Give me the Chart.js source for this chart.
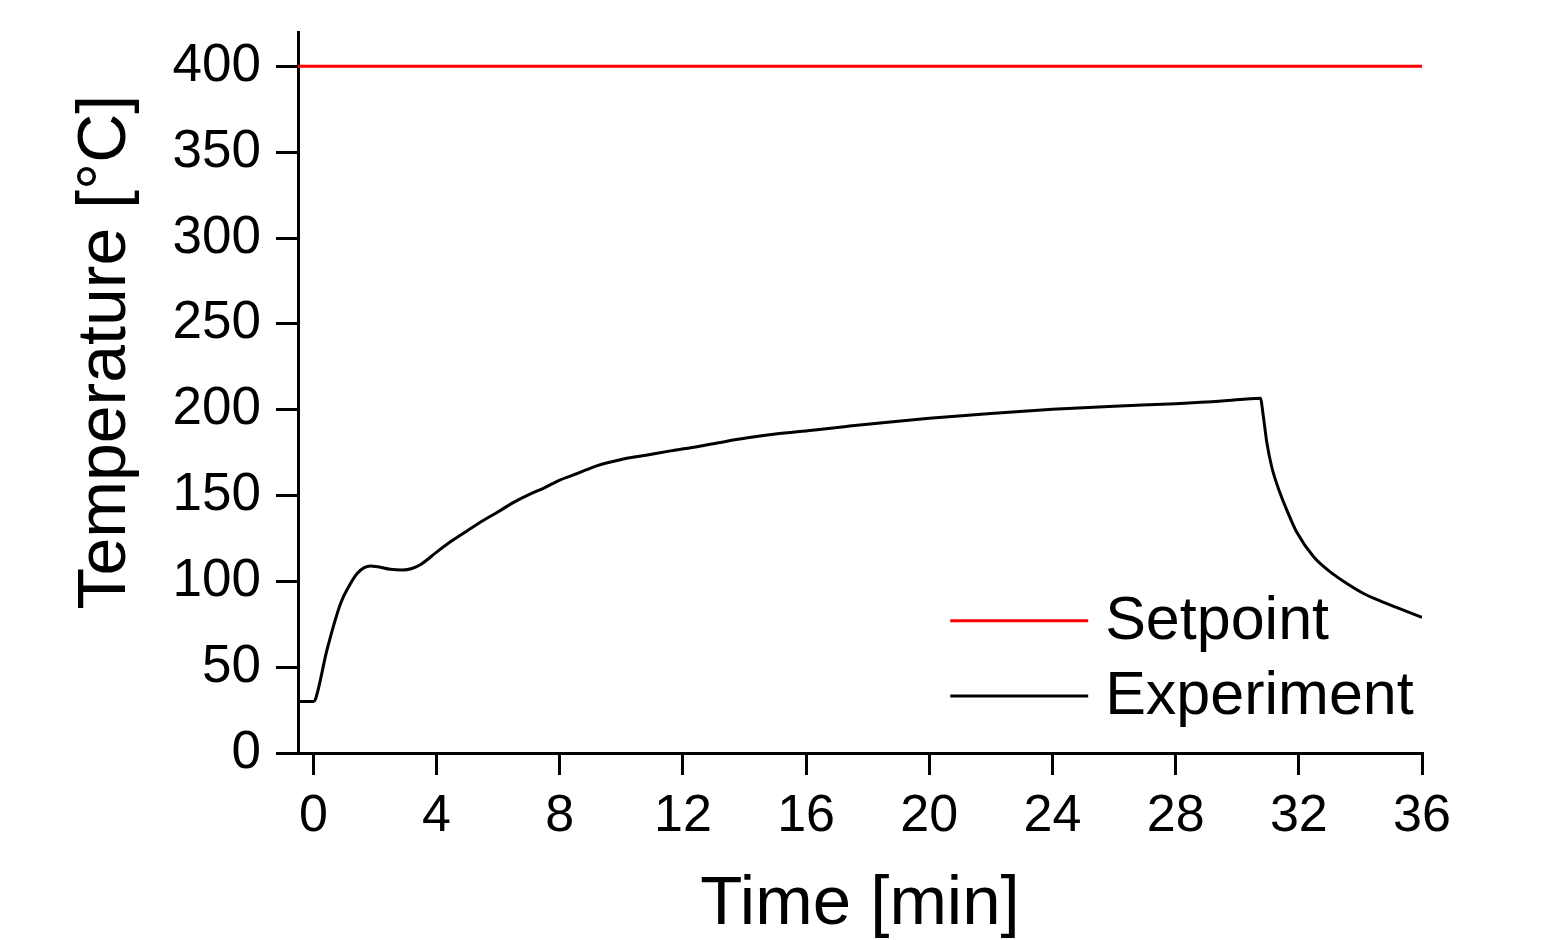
<!DOCTYPE html>
<html>
<head>
<meta charset="utf-8">
<script src="https://cdn.jsdelivr.net/npm/chart.js@4/dist/chart.umd.min.js"></script>
<style>
  html, body { margin: 0; padding: 0; background: #fff; }
  #wrap { width: 1559px; height: 940px; }
</style>
</head>
<body>
<div id="wrap"><canvas id="c" width="1559" height="940"></canvas></div>
<script>
// ---- data ----
const timeMin = [-0.5, 0, 0.06, 0.44, 0.88, 1.15, 1.42, 1.65, 1.85, 2.1, 2.5, 2.9, 3.2, 3.5, 4.0, 4.45, 5.0, 5.5, 6.0, 6.5, 7.0, 7.5, 8.0, 8.6, 9.2, 10.0, 10.8, 11.6, 12.5, 13.3, 14.1, 15.0, 16.2, 17.3, 18.4, 20.0, 22.0, 24.0, 26.0, 28.0, 29.5, 30.75, 30.85, 30.96, 31.12, 31.4, 31.66, 31.93, 32.48, 33.02, 33.56, 34.1, 34.64, 35.19, 36.0];
const experimentTemp = [30, 30, 31, 60, 87, 97, 104.6, 108, 109, 108.5, 107, 106.6, 107.5, 110, 117, 123, 129.5, 135.3, 140.5, 146, 150.5, 154.5, 159, 163, 167.3, 171, 173.5, 176, 178.6, 181.2, 183.6, 185.8, 188, 190.2, 192.3, 195, 197.8, 200.2, 202, 203.5, 205, 206.7, 195.8, 181, 166.6, 151, 139.4, 128.7, 114.3, 105.5, 98.7, 92.9, 88.6, 84.7, 79];
const setpointTime = [-0.5, 36];
const setpointTemp = [400, 400];
const xTicks = [0, 4, 8, 12, 16, 20, 24, 28, 32, 36];
const yTicks = [0, 50, 100, 150, 200, 250, 300, 350, 400];
const seriesLabels = ['Setpoint', 'Experiment'];
const xTitle = 'Time [min]';
const yTitle = 'Temperature [°C]';

const FONT = '"Liberation Sans", Arial, sans-serif';

const toXY = (xs, ys) => xs.map((x, i) => ({ x: x, y: ys[i] }));

const yTitlePlugin = {
  id: 'yTitlePlugin',
  afterDraw(chart) {
    const ctx = chart.ctx;
    const ca = chart.chartArea;
    ctx.save();
    ctx.translate(125, ca.top + (ca.bottom - ca.top) * 0.444);
    ctx.rotate(-Math.PI / 2);
    ctx.font = '68px ' + FONT;
    ctx.fillStyle = '#000';
    ctx.textAlign = 'center';
    ctx.textBaseline = 'alphabetic';
    ctx.fillText(yTitle, 0, 0);
    ctx.restore();
  }
};

const legendPlugin = {
  id: 'insideLegend',
  afterDatasetsDraw(chart) {
    const ctx = chart.ctx;
    const xs = chart.scales.x, ys = chart.scales.y;
    const x0 = xs.getPixelForValue(20.68);
    const x1 = xs.getPixelForValue(25.16);
    const rows = [ys.getPixelForValue(77), ys.getPixelForValue(33.2)];
    ctx.save();
    chart.data.datasets.forEach((ds, i) => {
      const y = rows[i];
      ctx.strokeStyle = ds.borderColor;
      ctx.lineWidth = 3;
      ctx.beginPath();
      ctx.moveTo(x0, y);
      ctx.lineTo(x1, y);
      ctx.stroke();
      ctx.font = '61px ' + FONT;
      ctx.fillStyle = '#000';
      ctx.textAlign = 'left';
      ctx.textBaseline = 'middle';
      ctx.fillText(ds.label, x1 + 17, y + 1);
    });
    ctx.restore();
  }
};

new Chart(document.getElementById('c'), {
  type: 'line',
  data: {
    datasets: [
      {
        label: seriesLabels[0],
        data: toXY(setpointTime, setpointTemp),
        borderColor: '#ff0000',
        borderWidth: 3,
        pointRadius: 0,
        tension: 0
      },
      {
        label: seriesLabels[1],
        data: toXY(timeMin, experimentTemp),
        borderColor: '#000000',
        borderWidth: 3,
        pointRadius: 0,
        cubicInterpolationMode: 'monotone'
      }
    ]
  },
  options: {
    responsive: false,
    animation: false,
    devicePixelRatio: 1,
    layout: { padding: { top: 32, right: 137, bottom: 0, left: 0 } },
    plugins: {
      legend: { display: false },
      tooltip: { enabled: false }
    },
    scales: {
      x: {
        type: 'linear',
        min: -0.5,
        max: 36,
        afterBuildTicks: (s) => { s.ticks = xTicks.map(v => ({ value: v })); },
        afterFit: (s) => { s.height = 187; s.paddingLeft = 0; s.paddingRight = 0; },
        grid: { drawOnChartArea: false, drawTicks: true, tickLength: 22, color: '#000', lineWidth: 3 },
        border: { display: true, color: '#000', width: 3 },
        ticks: { color: '#000', font: { family: FONT, size: 52 }, padding: 10, maxRotation: 0, autoSkip: false },
        title: { display: true, text: xTitle, color: '#000', font: { family: FONT, size: 69, lineHeight: 1 }, padding: { top: 0, bottom: 1 } }
      },
      y: {
        type: 'linear',
        min: 0,
        max: 420,
        afterBuildTicks: (s) => { s.ticks = yTicks.map(v => ({ value: v })); },
        afterFit: (s) => { s.width = 298; s.paddingTop = 0; s.paddingBottom = 0; },
        grid: { drawOnChartArea: false, drawTicks: true, tickLength: 22, color: '#000', lineWidth: 3 },
        border: { display: true, color: '#000', width: 3 },
        ticks: { color: '#000', font: { family: FONT, size: 53 }, padding: 15, autoSkip: false }
      }
    }
  },
  plugins: [yTitlePlugin, legendPlugin]
});
</script>
</body>
</html>
